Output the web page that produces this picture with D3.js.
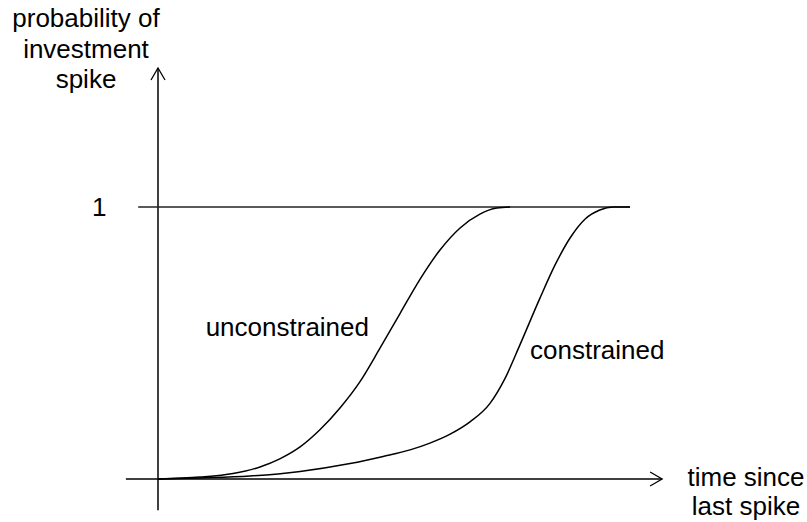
<!DOCTYPE html>
<html lang="en">
<head>
  <meta charset="UTF-8">
  <title>Investment spike hazard</title>
  <script src="https://d3js.org/d3.v7.min.js"></script>
  <style>
    body {
      margin: 0;
      padding: 0;
      background: #fff;
    }
    svg text {
      font-family: Arial, "Liberation Sans", sans-serif;
      font-size: 26px;
      fill: #000;
    }
  </style>
</head>
<body>
  <svg id="chart" width="807" height="522"></svg>
  <script>
    // time since last spike (arbitrary units) and probability
    const unconstrainedX = [0, 0.89, 1.59, 2.16, 2.58, 3.01, 3.43, 3.86, 4.28, 4.70, 5.13, 5.55, 5.97, 6.40, 6.82, 7.18, 7.46];
    const unconstrainedY = [0, 0.007, 0.020, 0.044, 0.074, 0.118, 0.181, 0.262, 0.358, 0.480, 0.609, 0.734, 0.841, 0.923, 0.974, 0.996, 1];

    const constrainedX = [0, 0.89, 1.95, 3.01, 4.07, 4.77, 5.34, 5.76, 6.19, 6.61, 7.03, 7.35, 7.67, 8.09, 8.41, 8.73, 9.05, 9.36, 9.64, 10];
    const constrainedY = [0, 0.004, 0.011, 0.028, 0.057, 0.083, 0.107, 0.132, 0.165, 0.210, 0.277, 0.369, 0.494, 0.664, 0.786, 0.886, 0.956, 0.989, 1, 1];

    const yLabelLines = ["probability of", "investment", "spike"];
    const xLabelLines = ["time since", "last spike"];
    const tickOne = "1";

    const svg = d3.select("#chart");

    const x = d3.scaleLinear().domain([0, 10]).range([158, 630]);
    const y = d3.scaleLinear().domain([0, 1]).range([479, 207]);

    // axis extents in data units
    const xAxisFrom = -0.68, xAxisTo = 10.68;
    const yAxisFrom = -0.115, yAxisTo = 1.511;
    const oneLineFrom = -0.42;

    // x axis with open arrow head
    svg.append("line")
      .attr("x1", x(xAxisFrom)).attr("x2", x(xAxisTo))
      .attr("y1", y(0)).attr("y2", y(0))
      .attr("stroke", "#000").attr("stroke-width", 1.5);
    svg.append("path")
      .attr("d", `M${x(xAxisTo) - 12},${y(0) - 7} L${x(xAxisTo)},${y(0)} L${x(xAxisTo) - 12},${y(0) + 7}`)
      .attr("fill", "none").attr("stroke", "#000").attr("stroke-width", 1.3);

    // y axis with open arrow head
    svg.append("line")
      .attr("x1", x(0)).attr("x2", x(0))
      .attr("y1", y(yAxisFrom)).attr("y2", y(yAxisTo))
      .attr("stroke", "#000").attr("stroke-width", 1.5);
    svg.append("path")
      .attr("d", `M${x(0) - 7},${y(yAxisTo) + 12} L${x(0)},${y(yAxisTo)} L${x(0) + 7},${y(yAxisTo) + 12}`)
      .attr("fill", "none").attr("stroke", "#000").attr("stroke-width", 1.3);

    // probability = 1
    svg.append("line")
      .attr("x1", x(oneLineFrom)).attr("x2", x(10))
      .attr("y1", y(1)).attr("y2", y(1))
      .attr("stroke", "#222").attr("stroke-width", 1.5);

    svg.append("text")
      .attr("x", 92).attr("y", y(1))
      .attr("dy", "0.35em")
      .text(tickOne);

    const line = d3.line()
      .x(d => x(d[0]))
      .y(d => y(d[1]))
      .curve(d3.curveMonotoneX);

    svg.selectAll("path.curve")
      .data([d3.zip(unconstrainedX, unconstrainedY), d3.zip(constrainedX, constrainedY)])
      .join("path")
      .attr("class", "curve")
      .attr("d", line)
      .attr("fill", "none")
      .attr("stroke", "#000")
      .attr("stroke-width", 1.5);

    // curve labels
    svg.append("text")
      .attr("x", 369).attr("y", 336)
      .attr("text-anchor", "end")
      .text("unconstrained");
    svg.append("text")
      .attr("x", 530).attr("y", 359)
      .text("constrained");

    // axis titles
    svg.append("text")
      .attr("text-anchor", "middle")
      .selectAll("tspan")
      .data(yLabelLines)
      .join("tspan")
      .attr("x", 86)
      .attr("y", (d, i) => 27 + i * 30.5)
      .text(d => d);

    svg.append("text")
      .attr("text-anchor", "middle")
      .selectAll("tspan")
      .data(xLabelLines)
      .join("tspan")
      .attr("x", 746)
      .attr("y", (d, i) => 486 + i * 28.5)
      .text(d => d);
  </script>
</body>
</html>
